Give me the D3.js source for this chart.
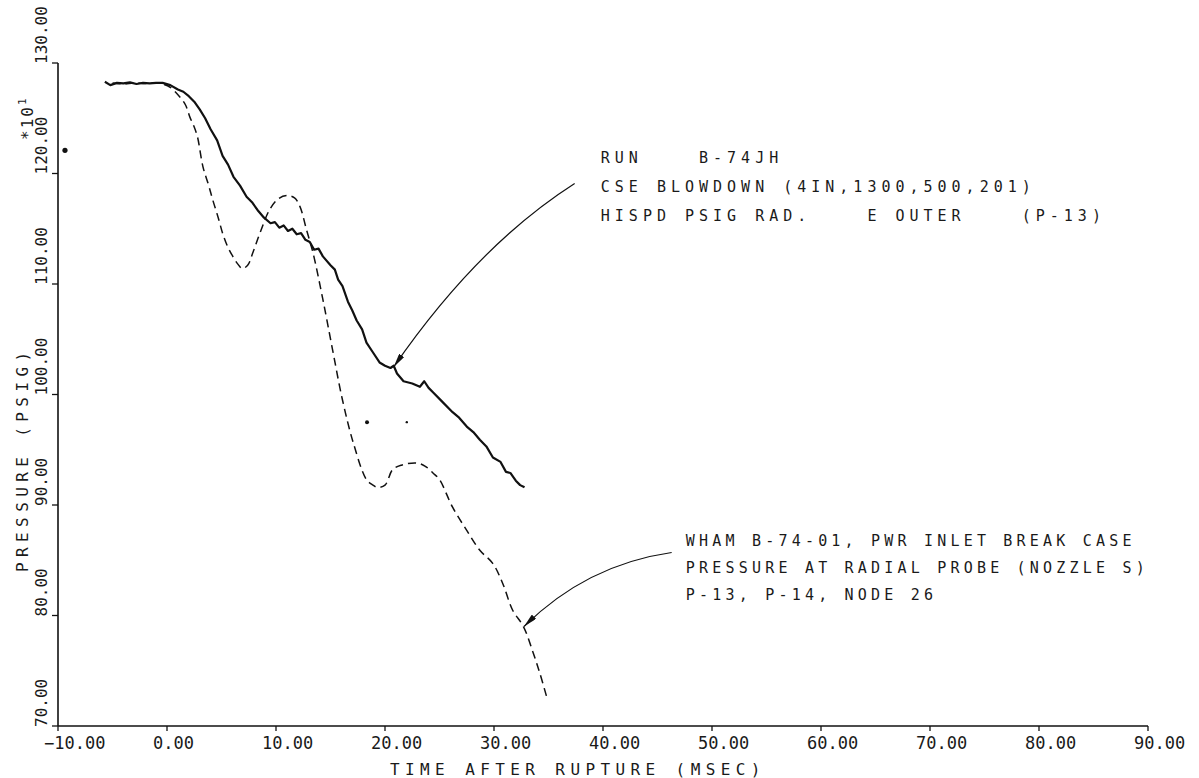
<!DOCTYPE html>
<html>
<head>
<meta charset="utf-8">
<script src="https://d3js.org/d3.v7.min.js"></script>
<style>
  body { margin: 0; background: #fff; }
  svg { display: block; }
  .plot-txt { font-family: "DejaVu Sans Mono", monospace; fill: #1a1a1a; }
</style>
</head>
<body>
<svg id="chart" width="1199" height="778"></svg>
<script>
// time after rupture (msec) and pressure (psig x10)
var runT = [-5.7,-5.2,-4.6,-4.0,-3.4,-2.8,-2.2,-1.6,-1.0,-0.4,0.3,1.0,1.5,2.0,2.5,3.0,3.5,4.0,4.6,5.1,5.6,6.1,6.7,7.3,7.8,8.3,8.9,9.5,9.9,10.3,10.7,11.1,11.5,11.9,12.3,12.7,13.1,13.5,13.9,14.3,15.0,15.4,15.7,16.1,16.6,17.0,17.4,17.9,18.3,18.9,19.5,20.0,20.5,20.8,21.1,21.7,22.5,23.2,23.6,24.0,24.4,25.2,26.2,26.8,27.5,28.1,28.7,29.3,29.9,30.6,31.1,31.5,32.0,32.4,32.8];
var runP = [128.3,128.0,128.2,128.15,128.25,128.1,128.2,128.15,128.2,128.2,128.0,127.6,127.4,127.0,126.5,125.8,125.0,124.0,123.0,121.6,120.8,119.7,118.9,117.9,117.4,116.7,116.0,115.5,115.6,115.1,115.3,114.8,115.0,114.5,114.6,114.0,113.8,113.1,113.2,112.5,111.7,111.3,110.4,109.8,108.4,107.6,106.7,105.9,104.7,103.8,102.9,102.6,102.4,102.6,101.9,101.2,101.0,100.7,101.2,100.6,100.2,99.4,98.4,97.9,97.1,96.6,95.9,95.3,94.3,93.9,93.0,92.9,92.2,91.8,91.6];

var whamT = [-5.0,-4.0,-3.0,-2.0,-1.0,-0.4,0.3,1.2,1.7,2.1,2.5,2.8,3.3,3.8,4.2,4.7,5.1,5.6,6.1,6.5,6.9,7.4,7.9,8.6,9.4,10.2,11.0,11.7,12.2,12.8,13.4,14.3,15.2,16.1,17.1,18.3,18.9,19.3,20.0,20.7,21.5,22.9,23.7,24.4,25.0,26.2,27.5,28.7,29.9,30.8,31.7,32.7,33.6,34.2,34.9];
var whamP = [128.2,128.1,128.2,128.15,128.2,128.1,127.8,126.9,126.2,125.1,124.2,123.3,120.6,119.0,117.6,116.0,114.6,113.3,112.4,111.8,111.4,111.7,112.9,114.8,116.7,117.7,118.0,117.8,117.0,114.9,112.8,108.6,104.0,99.5,95.6,92.3,91.8,91.6,91.8,93.2,93.6,93.8,93.5,92.9,92.3,89.8,87.7,85.9,84.7,82.9,80.5,79.0,76.6,74.8,72.4];

var xTicks = [-10,0,10,20,30,40,50,60,70,80,90];
var yTicks = [70,80,90,100,110,120,130];

// stray plotter specks seen on the sheet
var speckT = [-9.36, 18.35, 22.0];
var speckP = [122.1, 97.5, 97.5];
var speckR = [2.6, 2, 1.2];

var runLines = ["RUN    B-74JH", "CSE BLOWDOWN (4IN,1300,500,201)", "HISPD PSIG RAD.    E OUTER    (P-13)"];
var whamLines = ["WHAM B-74-01, PWR INLET BREAK CASE", "PRESSURE AT RADIAL PROBE (NOZZLE S)", "P-13, P-14, NODE 26"];

var svg = d3.select("#chart");
svg.append("rect").attr("width", 1199).attr("height", 778).attr("fill", "#fff");

var x = d3.scaleLinear().domain([-10, 90]).range([58, 1148]);
var y = d3.scaleLinear().domain([70, 130]).range([726, 63]);

// axes, drawn by hand so the labels sit like the plotter ones
var xAxis = svg.append("g").attr("transform", "translate(0," + y(70) + ")");
xAxis.append("line").attr("x1", x(-10)).attr("x2", x(90)).attr("stroke", "#111").attr("stroke-width", 1.6);
xAxis.selectAll(".tk").data(xTicks).enter().append("line")
  .attr("x1", function(d){ return x(d); }).attr("x2", function(d){ return x(d); })
  .attr("y1", 0).attr("y2", 5).attr("stroke", "#111").attr("stroke-width", 1.3);
xAxis.selectAll("text").data(xTicks).enter().append("text")
  .attr("class", "plot-txt")
  .attr("x", function(d){ return x(d) - 14; })
  .attr("y", 23)
  .style("font-size", "17px")
  .text(function(d){ return d3.format(".2f")(d); });

var yAxis = svg.append("g").attr("transform", "translate(" + x(-10) + ",0)");
yAxis.append("line").attr("y1", y(70)).attr("y2", y(130)).attr("stroke", "#111").attr("stroke-width", 1.6);
yAxis.selectAll(".tk").data(yTicks).enter().append("line")
  .attr("y1", function(d){ return y(d); }).attr("y2", function(d){ return y(d); })
  .attr("x1", -6).attr("x2", 0).attr("stroke", "#111").attr("stroke-width", 1.3);
yAxis.selectAll("text").data(yTicks).enter().append("text")
  .attr("class", "plot-txt")
  .attr("transform", function(d){ return "translate(-11," + (y(d) + 1) + ") rotate(-90)"; })
  .style("font-size", "16px")
  .text(function(d){ return d3.format(".2f")(d); });

// axis titles
svg.append("text").attr("class", "plot-txt")
  .attr("x", 390).attr("y", 775)
  .style("font-size", "16px").style("letter-spacing", "5.4px")
  .text("TIME AFTER RUPTURE (MSEC)");
svg.append("text").attr("class", "plot-txt")
  .attr("transform", "translate(28,572) rotate(-90)")
  .style("font-size", "16px").style("letter-spacing", "5.4px")
  .text("PRESSURE (PSIG)");
var mult = svg.append("text").attr("class", "plot-txt")
  .attr("transform", "translate(33,140) rotate(-90)")
  .style("font-size", "16px").style("letter-spacing", "2px");
mult.append("tspan").text("*10");
mult.append("tspan").attr("dy", -7).style("font-size", "11px").text("1");

// curves
var runData = runT.map(function(t, i){ return [t, runP[i]]; });
var whamData = whamT.map(function(t, i){ return [t, whamP[i]]; });

var lineLin = d3.line().x(function(d){ return x(d[0]); }).y(function(d){ return y(d[1]); });
var lineSmooth = d3.line().curve(d3.curveCatmullRom).x(function(d){ return x(d[0]); }).y(function(d){ return y(d[1]); });

svg.append("path").datum(whamData).attr("d", lineSmooth)
  .attr("fill", "none").attr("stroke", "#111").attr("stroke-width", 1.5)
  .attr("stroke-dasharray", "8,5");
svg.append("path").datum(runData).attr("d", lineLin)
  .attr("fill", "none").attr("stroke", "#111").attr("stroke-width", 2.2)
  .attr("stroke-linejoin", "round");

svg.append("g").selectAll("circle").data(speckT).enter().append("circle")
  .attr("cx", function(d){ return x(d); })
  .attr("cy", function(d, i){ return y(speckP[i]); })
  .attr("r", function(d, i){ return speckR[i]; })
  .attr("fill", "#111");

// arrows
svg.append("defs").append("marker")
  .attr("id", "head").attr("viewBox", "0 0 14 6")
  .attr("refX", 14).attr("refY", 3)
  .attr("markerWidth", 14).attr("markerHeight", 6)
  .attr("markerUnits", "userSpaceOnUse")
  .attr("orient", "auto")
  .append("path").attr("d", "M0,0 L14,3 L0,6 Z").attr("fill", "#111");

function arrow(t0, p0, tc, pc, t1, p1){
  var p = d3.path();
  p.moveTo(x(t0), y(p0));
  p.quadraticCurveTo(x(tc), y(pc), x(t1), y(p1));
  svg.append("path").attr("d", p.toString())
    .attr("fill", "none").attr("stroke", "#111").attr("stroke-width", 1.2)
    .attr("marker-end", "url(#head)");
}
arrow(37.4, 119.1, 28.5, 113.5, 20.8, 102.5);
arrow(46.3, 85.7, 38.5, 84.6, 32.75, 79.0);

// annotation text
svg.append("g").selectAll("text").data(runLines).enter().append("text")
  .attr("class", "plot-txt")
  .attr("x", x(39.8))
  .attr("y", function(d, i){ return 163 + i * 29; })
  .style("font-size", "15px").style("letter-spacing", "5px")
  .style("white-space", "pre")
  .text(function(d){ return d; });

svg.append("g").selectAll("text").data(whamLines).enter().append("text")
  .attr("class", "plot-txt")
  .attr("x", x(47.6))
  .attr("y", function(d, i){ return 546 + i * 27; })
  .style("font-size", "15px").style("letter-spacing", "4.2px")
  .style("white-space", "pre")
  .text(function(d){ return d; });
</script>
</body>
</html>
